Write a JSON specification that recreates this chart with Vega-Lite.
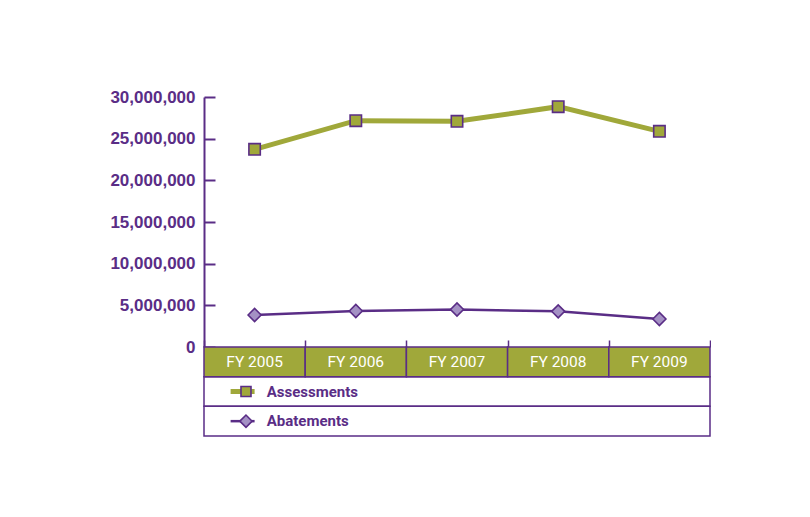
{
  "$schema": "https://vega.github.io/schema/vega-lite/v6.json",
  "background": "white",
  "padding": {"left": 109, "top": 88, "right": 0, "bottom": 0},
  "spacing": 0,
  "bounds": "flush",
  "config": {"view": {"stroke": null}, "font": "Liberation Sans"},
  "datasets": {
    "series": [
      {"year": "FY 2005", "series": "Assessments", "value": 23720000},
      {"year": "FY 2006", "series": "Assessments", "value": 27160000},
      {"year": "FY 2007", "series": "Assessments", "value": 27080000},
      {"year": "FY 2008", "series": "Assessments", "value": 28840000},
      {"year": "FY 2009", "series": "Assessments", "value": 25880000},
      {"year": "FY 2005", "series": "Abatements", "value": 3840000},
      {"year": "FY 2006", "series": "Abatements", "value": 4320000},
      {"year": "FY 2007", "series": "Abatements", "value": 4500000},
      {"year": "FY 2008", "series": "Abatements", "value": 4280000},
      {"year": "FY 2009", "series": "Abatements", "value": 3360000}
    ],
    "header": [
      {"year": "FY 2005", "row": "header"},
      {"year": "FY 2006", "row": "header"},
      {"year": "FY 2007", "row": "header"},
      {"year": "FY 2008", "row": "header"},
      {"year": "FY 2009", "row": "header"}
    ],
    "rows": [
      {"row": "Assessments", "year": "FY 2005"},
      {"row": "Abatements", "year": "FY 2005"}
    ]
  },
  "vconcat": [
    {
      "width": 506,
      "height": 250,
      "data": {"name": "series"},
      "encoding": {
        "x": {
          "field": "year", "type": "ordinal",
          "scale": {"paddingInner": 0, "paddingOuter": 0, "domain": ["FY 2005", "FY 2006", "FY 2007", "FY 2008", "FY 2009"]},
          "axis": {"labels": false, "domain": false, "title": null, "tickBand": "extent", "tickSize": -7, "tickColor": "#5a2d86", "tickWidth": 1.5}
        },
        "y": {
          "field": "value", "type": "quantitative",
          "scale": {"domain": [0, 30000000], "nice": false},
          "axis": {
            "title": null, "values": [0, 5000000, 10000000, 15000000, 20000000, 25000000, 30000000],
            "format": ",d", "grid": false, "domainColor": "#5a2d86", "domainWidth": 2,
            "tickColor": "#5a2d86", "tickWidth": 2, "tickSize": -11, "labelPadding": 20,
            "labelColor": "#5a2d86", "labelFont": "Liberation Sans", "labelFontWeight": "bold", "labelFontSize": 17
          }
        }
      },
      "layer": [
        {
          "transform": [{"filter": "datum.series === 'Assessments'"}],
          "mark": {"type": "line", "color": "#a0a83a", "strokeWidth": 5},
          "encoding": {}
        },
        {
          "transform": [{"filter": "datum.series === 'Abatements'"}],
          "mark": {"type": "line", "color": "#5a2d86", "strokeWidth": 2.5},
          "encoding": {}
        },
        {
          "transform": [{"filter": "datum.series === 'Assessments'"}],
          "mark": {"type": "point", "shape": "square", "filled": true, "size": 130, "fill": "#a0a83a", "stroke": "#5a2d86", "strokeWidth": 1.6, "opacity": 1}
        },
        {
          "transform": [{"filter": "datum.series === 'Abatements'"}],
          "mark": {"type": "point", "shape": "diamond", "filled": true, "size": 170, "fill": "#a491c4", "stroke": "#5a2d86", "strokeWidth": 1.6, "opacity": 1}
        }
      ]
    },
    {
      "width": 506,
      "height": 89,
      "encoding": {
        "y": {
          "field": "row", "type": "nominal",
          "scale": {"domain": ["header", "Assessments", "Abatements"], "paddingInner": 0, "paddingOuter": 0},
          "axis": null
        }
      },
      "layer": [
        {
          "data": {"name": "rows"},
          "mark": {"type": "rect", "fill": "white", "stroke": "#5a2d86", "strokeWidth": 1.5}
        },
        {
          "data": {"name": "header"},
          "mark": {"type": "rect", "fill": "#a0a83a", "stroke": "#5a2d86", "strokeWidth": 1.5},
          "encoding": {
            "x": {"field": "year", "type": "ordinal", "scale": {"paddingInner": 0, "paddingOuter": 0, "domain": ["FY 2005", "FY 2006", "FY 2007", "FY 2008", "FY 2009"]}, "axis": null}
          }
        },
        {
          "data": {"name": "header"},
          "mark": {"type": "text", "color": "white", "font": "Roboto", "fontSize": 15.5},
          "encoding": {
            "x": {"field": "year", "type": "ordinal"},
            "text": {"field": "year"}
          }
        },
        {
          "data": {"name": "rows"},
          "transform": [{"filter": "datum.row === 'Assessments'"}],
          "mark": {"type": "tick", "orient": "horizontal", "size": 24, "thickness": 5, "color": "#a0a83a", "opacity": 1, "xOffset": -12},
          "encoding": {"x": {"datum": "FY 2005", "bandPosition": 0.415, "type": "ordinal"}}
        },
        {
          "data": {"name": "rows"},
          "transform": [{"filter": "datum.row === 'Abatements'"}],
          "mark": {"type": "tick", "orient": "horizontal", "size": 24, "thickness": 2.5, "color": "#5a2d86", "opacity": 1, "xOffset": -12},
          "encoding": {"x": {"datum": "FY 2005", "bandPosition": 0.415, "type": "ordinal"}}
        },
        {
          "data": {"name": "rows"},
          "transform": [{"filter": "datum.row === 'Assessments'"}],
          "mark": {"type": "point", "shape": "square", "filled": true, "size": 100, "fill": "#a0a83a", "stroke": "#5a2d86", "strokeWidth": 1.6, "opacity": 1},
          "encoding": {"x": {"datum": "FY 2005", "bandPosition": 0.415, "type": "ordinal"}}
        },
        {
          "data": {"name": "rows"},
          "transform": [{"filter": "datum.row === 'Abatements'"}],
          "mark": {"type": "point", "shape": "diamond", "filled": true, "size": 150, "fill": "#a491c4", "stroke": "#5a2d86", "strokeWidth": 1.6, "opacity": 1},
          "encoding": {"x": {"datum": "FY 2005", "bandPosition": 0.415, "type": "ordinal"}}
        },
        {
          "data": {"name": "rows"},
          "mark": {"type": "text", "align": "left", "color": "#5a2d86", "font": "Roboto", "fontWeight": "bold", "fontSize": 15},
          "encoding": {
            "x": {"datum": "FY 2005", "bandPosition": 0.62, "type": "ordinal"},
            "text": {"field": "row"}
          }
        }
      ]
    }
  ]
}
